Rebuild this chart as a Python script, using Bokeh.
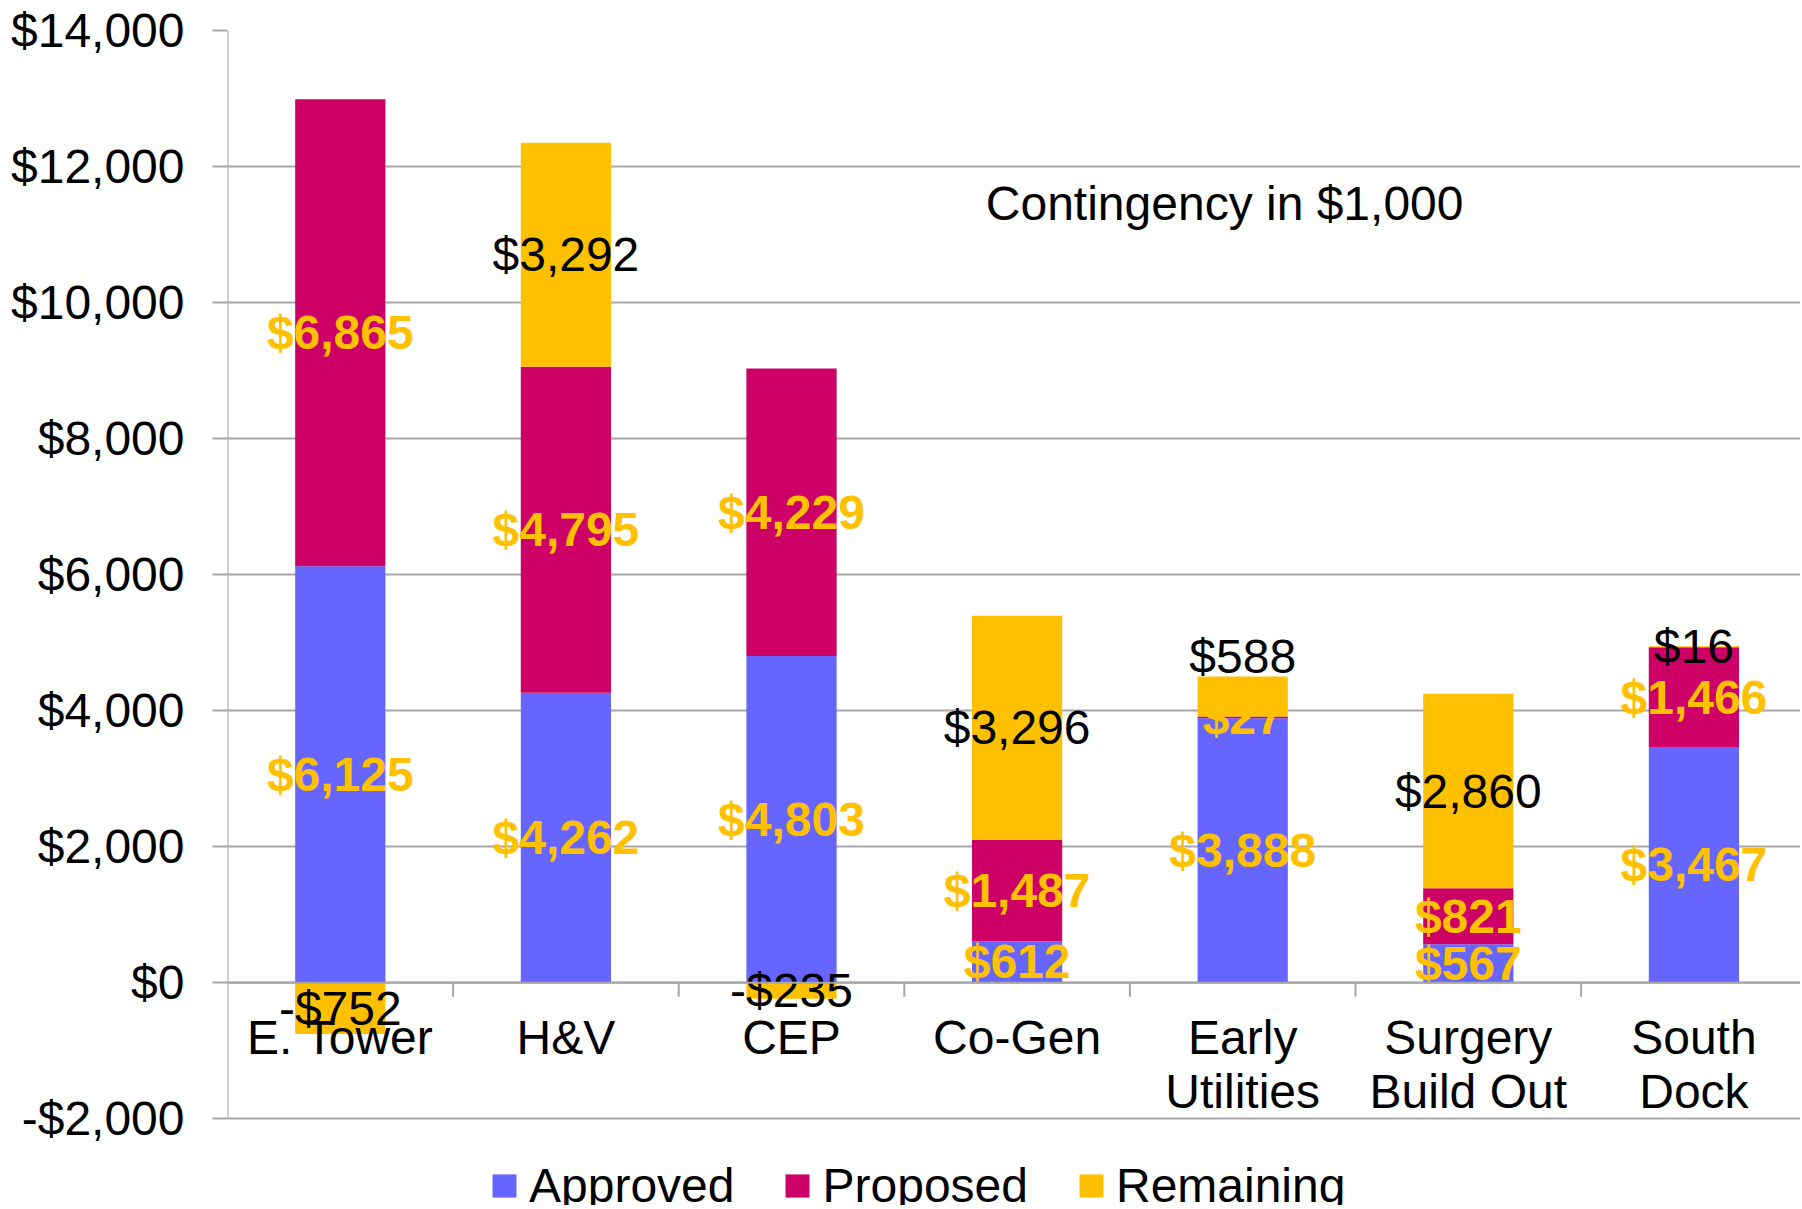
import math
from bokeh.plotting import figure
from bokeh.models import (ColumnDataSource, FixedTicker, Legend, LegendItem, Label,
                          Range1d, Span)
from bokeh.core.properties import value
from bokeh.embed import file_html
from bokeh.resources import INLINE

# ---------------- data ----------------
categories = ["E. Tower", "H&V", "CEP", "Co-Gen", "Early\nUtilities",
              "Surgery\nBuild Out", "South\nDock"]
approved = [6125, 4262, 4803, 612, 3888, 567, 3467]
proposed = [6865, 4795, 4229, 1487, 27, 821, 1466]
remaining = [-752, 3292, -235, 3296, 588, 2860, 16]
series_names = ["Approved", "Proposed", "Remaining"]
y_ticks = [-2000, 0, 2000, 4000, 6000, 8000, 10000, 12000, 14000]
note_text = "Contingency in $1,000"

# ---------------- layout / styles ----------------
W, H = 1800, 1205
LEFT, TOP = 227, 30
PX_PER_UNIT = 1088.3 / 16000        # vertical scale of the reference
PX_PER_CAT = 225.6                  # horizontal spacing of categories
colors = ["#6666FF", "#CC0066", "#FFC000"]
label_yellow = "#FFC000"
grid_gray = "#A6A6A6"
FONT = "Liberation Sans"
FS = "48px"
remaining_label_shift = [0, 0, 0, 0, -40, 0, 0]   # px, manual label nudges


def money(v):
    return ("-" if v < 0 else "") + "${:,}".format(abs(v))


n = len(categories)
xs = [i + 0.5 for i in range(n)]

frame_h = H - TOP
frame_w = W - LEFT
y_top = max(y_ticks)
y_bottom = y_top - frame_h / PX_PER_UNIT
x_end = frame_w / PX_PER_CAT

a_bot = [0] * n
a_top = approved
p_bot = approved
p_top = [a + p for a, p in zip(approved, proposed)]
r_bot = [pt if r >= 0 else 0 for pt, r in zip(p_top, remaining)]
r_top = [pt + r if r >= 0 else r for pt, r in zip(p_top, remaining)]

p = figure(width=W, height=H, output_backend="svg", toolbar_location=None,
           x_range=Range1d(0, x_end), y_range=Range1d(y_bottom, y_top),
           x_axis_type=None, min_border_left=LEFT, min_border_right=0,
           min_border_top=TOP, min_border_bottom=0)
p.outline_line_color = None
p.background_fill_color = "white"
p.border_fill_color = "white"

# y axis (line drawn separately so it stops at the lowest tick)
yax = p.yaxis[0]
yax.ticker = FixedTicker(ticks=y_ticks)
yax.major_label_overrides = {t: money(t) for t in y_ticks}
yax.major_label_text_font = FONT
yax.major_label_text_font_size = FS
yax.major_label_text_color = "black"
yax.major_label_standoff = 28
yax.major_tick_in = 0
yax.major_tick_out = 15
yax.minor_tick_line_color = None
yax.axis_line_color = None
yax.major_tick_line_color = grid_gray
yax.major_tick_line_width = 2

p.ygrid.ticker = FixedTicker(ticks=y_ticks)
p.ygrid.grid_line_color = grid_gray
p.ygrid.grid_line_width = 2
p.xgrid.grid_line_color = None

p.segment(x0=[0], y0=[min(y_ticks)], x1=[0], y1=[max(y_ticks)],
          line_color=grid_gray, line_width=2)

src = ColumnDataSource(dict(x=xs, a_bot=a_bot, a_top=a_top, p_bot=p_bot, p_top=p_top,
                            r_bot=r_bot, r_top=r_top))
bw = 0.4
ra = p.vbar(x="x", bottom="a_bot", top="a_top", width=bw, source=src,
            fill_color=colors[0], line_color=None)
rp = p.vbar(x="x", bottom="p_bot", top="p_top", width=bw, source=src,
            fill_color=colors[1], line_color=None)
rr = p.vbar(x="x", bottom="r_bot", top="r_top", width=bw, source=src,
            fill_color=colors[2], line_color=None)

# category axis at zero with ticks between categories
p.add_layout(Span(location=0, dimension="width", line_color=grid_gray, line_width=2))
p.ray(x=list(range(1, n + 1)), y=[0] * n, length=14, length_units="screen",
      angle=-math.pi / 2, line_color=grid_gray, line_width=2)

# data labels
lab_src = ColumnDataSource(dict(
    x=xs + xs,
    y=[a / 2 for a in approved] + [a + pp / 2 for a, pp in zip(approved, proposed)],
    t=[money(v) for v in approved] + [money(v) for v in proposed]))
p.text(x="x", y="y", text="t", source=lab_src, text_align="center",
       text_baseline="middle", text_font=value(FONT), text_font_size=FS,
       text_font_style="bold", text_color=label_yellow)

rem_src = ColumnDataSource(dict(
    x=xs, y=[(b + t) / 2 for b, t in zip(r_bot, r_top)],
    t=[money(v) for v in remaining], off=remaining_label_shift))
p.text(x="x", y="y", text="t", y_offset="off", source=rem_src, text_align="center",
       text_baseline="middle", text_font=value(FONT), text_font_size=FS,
       text_color="black")

# category labels (one or two lines)
l1_src = ColumnDataSource(dict(x=xs, y=[0] * n, t=[c.split("\n")[0] for c in categories]))
two = [(x, c.split("\n")[1]) for x, c in zip(xs, categories) if "\n" in c]
l2_src = ColumnDataSource(dict(x=[t[0] for t in two], y=[0] * len(two),
                               t=[t[1] for t in two]))
for s, off in ((l1_src, 55), (l2_src, 109)):
    p.text(x="x", y="y", text="t", y_offset=off, source=s, text_align="center",
           text_baseline="middle", text_font=value(FONT), text_font_size=FS,
           text_color="black")

p.add_layout(Label(x=4.42, y=11460, text=note_text, text_align="center",
                   text_baseline="middle", text_font=FONT, text_font_size=FS,
                   text_color="black"))

legend = Legend(items=[LegendItem(label=series_names[0], renderers=[ra]),
                       LegendItem(label=series_names[1], renderers=[rp]),
                       LegendItem(label=series_names[2], renderers=[rr])],
                orientation="horizontal", location=(262, -8),
                glyph_width=30, glyph_height=29, label_standoff=10, spacing=48,
                label_text_font=FONT, label_text_font_size=FS,
                label_text_color="black",
                padding=0, margin=0, border_line_color=None,
                background_fill_alpha=0)
p.add_layout(legend, "center")

open("out.html", "w").write(file_html(p, INLINE))
